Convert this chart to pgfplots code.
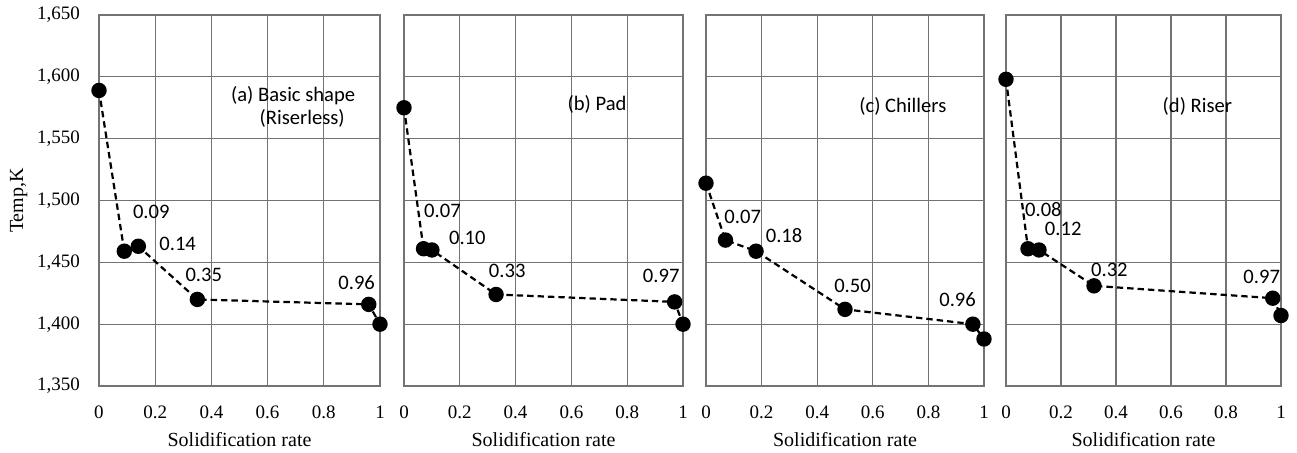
\documentclass[border=0pt]{standalone}
\usepackage{fontspec}
\setmainfont{Liberation Serif}
\newfontfamily\lab{Carlito}
\usepackage{pgfplots}
\pgfplotsset{compat=1.18}
\tikzset{lbl/.style={font=\lab\fontsize{10.3}{12}\selectfont, inner sep=0pt}}
\pgfplotsset{
  panel/.style={
    scale only axis, height=185.5pt,
    xmin=0, xmax=1, ymin=1350, ymax=1650,
    xtick={0,0.2,0.4,0.6,0.8,1},
    ytick={1350,1400,1450,1500,1550,1600,1650},
    xticklabels={0,0.2,0.4,0.6,0.8,1},
    xmajorgrids=true, ymajorgrids=true,
    tick style={draw=none},
    major grid style={draw=black!55, line width=0.6pt},
    axis line style={black!55, line width=0.6pt},
    tick label style={font=\fontsize{9.5}{11}\selectfont},
    xticklabel style={yshift=-6.5pt},
    /pgf/number format/assume math mode=true,
    /pgf/number format/1000 sep={,},
    xlabel={Solidification rate},
    xlabel style={font=\fontsize{10}{12}\selectfont, yshift=0pt},
    clip=false,
  },
  ser/.style={black, line width=1.1pt, dash pattern=on 3.2pt off 2pt,
    mark=*, mark size=3.3pt, mark options={solid, fill=black}},
}
\begin{document}
\begin{tikzpicture}
\path[use as bounding box] (-49.5pt,-33pt) rectangle (599pt,193pt);
% (a)
\begin{axis}[panel, width=140.5pt, at={(0pt,0pt)},
  ylabel={Temp,K}, ylabel style={font=\fontsize{10}{12}\selectfont, yshift=-2pt},
  yticklabel style={xshift=-6pt}]
\addplot[ser] coordinates {(0,1589) (0.09,1459) (0.14,1463) (0.35,1420) (0.96,1416) (1,1400)};
\node[lbl] at (axis cs:0.186,1491) {0.09};
\node[lbl] at (axis cs:0.28,1465) {0.14};
\node[lbl] at (axis cs:0.373,1440) {0.35};
\node[lbl] at (axis cs:0.917,1434) {0.96};
\node[lbl] at (axis cs:0.691,1585) {(a) Basic shape};
\node[lbl] at (axis cs:0.723,1566) {(Riserless)};
\end{axis}
% (b)
\begin{axis}[panel, width=139.5pt, at={(152.5pt,0pt)}, yticklabels={}]
\addplot[ser] coordinates {(0,1575) (0.07,1461) (0.10,1460) (0.33,1424) (0.97,1418) (1,1400)};
\node[lbl] at (axis cs:0.138,1492) {0.07};
\node[lbl] at (axis cs:0.227,1469.5) {0.10};
\node[lbl] at (axis cs:0.37,1443) {0.33};
\node[lbl] at (axis cs:0.922,1439) {0.97};
\node[lbl] at (axis cs:0.692,1578) {(b) Pad};
\end{axis}
% (c)
\begin{axis}[panel, width=139pt, at={(303.5pt,0pt)}, yticklabels={}]
\addplot[ser] coordinates {(0,1514) (0.07,1468) (0.18,1459) (0.50,1412) (0.96,1400) (1,1388)};
\node[lbl] at (axis cs:0.132,1486.4) {0.07};
\node[lbl] at (axis cs:0.281,1471.6) {0.18};
\node[lbl] at (axis cs:0.527,1431) {0.50};
\node[lbl] at (axis cs:0.905,1419.7) {0.96};
\node[lbl] at (axis cs:0.708,1576) {(c) Chillers};
\end{axis}
% (d)
\begin{axis}[panel, width=137.5pt, at={(453.5pt,0pt)}, yticklabels={}]
\addplot[ser] coordinates {(0,1598) (0.08,1461) (0.12,1460) (0.32,1431) (0.97,1421) (1,1407)};
\node[lbl] at (axis cs:0.136,1493) {0.08};
\node[lbl] at (axis cs:0.208,1477) {0.12};
\node[lbl] at (axis cs:0.376,1443.5) {0.32};
\node[lbl] at (axis cs:0.93,1438) {0.97};
\node[lbl] at (axis cs:0.696,1576) {(d) Riser};
\end{axis}
\end{tikzpicture}
\end{document}
